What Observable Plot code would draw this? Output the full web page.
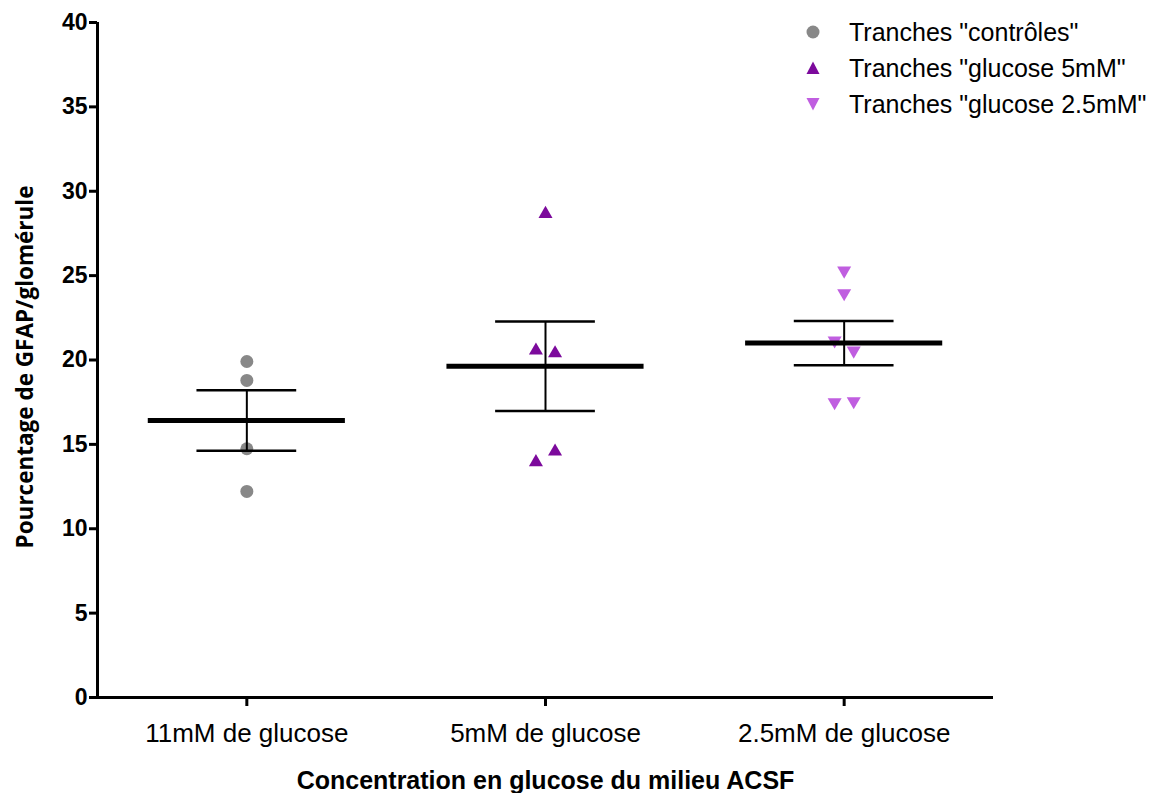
<!DOCTYPE html>
<html>
<head>
<meta charset="utf-8">
<script src="https://cdn.jsdelivr.net/npm/d3@7"></script>
<script src="https://cdn.jsdelivr.net/npm/@observablehq/plot@0.6"></script>
<style>
  body { margin: 0; background: #fff; }
  #wrap { position: relative; width: 1153px; height: 793px; font-family: "Liberation Sans", Arial, sans-serif; }
  #legend { position: absolute; left: 800px; top: 14px; font-size: 25px; color: #000; }
  #legend .row { display: flex; align-items: center; height: 36px; }
  #legend svg { width: 26px; height: 26px; margin-right: 23px; flex: none; }
</style>
</head>
<body>
<div id="wrap"><div id="legend"></div></div>
<script>
// ---- data ----
const categories = ["11mM de glucose", "5mM de glucose", "2.5mM de glucose"];
const seriesNames = ['Tranches "contrôles"', 'Tranches "glucose 5mM"', 'Tranches "glucose 2.5mM"'];
const controles = [19.91, 18.79, 14.74, 12.21];
const glucose5 = [28.66, 20.56, 20.40, 14.58, 13.95];
const glucose25 = [25.30, 23.96, 21.16, 20.56, 17.50, 17.56];
// scatter column arrangement (left / centre / right) of each point
const spread5 = [0, -1, 1, 1, -1];
const spread25 = [0, 0, -1, 1, -1, 1];
const spreadCtrl = [0, 0, 0, 0];
const yTicks = [0, 5, 10, 15, 20, 25, 30, 35, 40];
const yLabel = "Pourcentage de GFAP/glomérule";
const xLabel = "Concentration en glucose du milieu ACSF";

const colors = ["#888888", "#7c0a9c", "#c05ee0"];
const groups = [controles, glucose5, glucose25];
const spreads = [spreadCtrl, spread5, spread25];

// down-pointing triangle symbol
const triangleDown = {
  draw(context, size) {
    const y = Math.sqrt(size / (3 * Math.sqrt(3)));
    context.moveTo(0, 2 * y);
    context.lineTo(Math.sqrt(3) * y, -y);
    context.lineTo(-Math.sqrt(3) * y, -y);
    context.closePath();
  }
};
const symbols = ["circle", "triangle", triangleDown];
const radii = [6.5, 5.2, 5.2];

const JIT = 0.032;
const points = [];
groups.forEach((vals, g) => vals.forEach((v, k) => points.push({g, v, x: g + spreads[g][k] * JIT})));

const stats = groups.map((vals, g) => {
  const m = d3.mean(vals);
  const se = d3.deviation(vals) / Math.sqrt(vals.length);
  return {g, mean: m, lo: m - se, hi: m + se};
});

const marks = [];
groups.forEach((vals, g) => {
  marks.push(Plot.dot(points.filter(d => d.g === g), {
    x: "x", y: "v", symbol: symbols[g], r: radii[g], fill: colors[g], stroke: "none"
  }));
});
marks.push(
  Plot.ruleX(stats, {x: "g", y1: "lo", y2: "hi", stroke: "#000", strokeWidth: 2}),
  Plot.ruleY(stats, {y: "hi", x1: d => d.g - 0.167, x2: d => d.g + 0.167, stroke: "#000", strokeWidth: 2.5}),
  Plot.ruleY(stats, {y: "lo", x1: d => d.g - 0.167, x2: d => d.g + 0.167, stroke: "#000", strokeWidth: 2.5}),
  Plot.ruleY(stats, {y: "mean", x1: d => d.g - 0.33, x2: d => d.g + 0.33, stroke: "#000", strokeWidth: 5}),
  // axis lines
  Plot.ruleX([-0.5], {y1: 0, y2: 40, stroke: "#000", strokeWidth: 3}),
  Plot.ruleY([0], {x1: -0.5, x2: 2.5, stroke: "#000", strokeWidth: 3}),
  Plot.axisY({ticks: yTicks, tickSize: 8, tickPadding: 2, strokeWidth: 3, fontSize: 23, fontWeight: "bold", label: null}),
  Plot.axisX({ticks: [0, 1, 2], tickFormat: i => categories[i], tickSize: 9, tickPadding: 17, strokeWidth: 3, fontSize: 26, label: null}),
  Plot.text([yLabel], {text: d => d, frameAnchor: "left", rotate: -90, dx: -72, dy: 7, textAnchor: "middle", fontSize: 22.5, fontWeight: "bold", fontFamily: "'Open Sans', sans-serif"}),
  Plot.text([xLabel], {text: d => d, frameAnchor: "bottom", dy: 91, textAnchor: "middle", fontSize: 25, fontWeight: "bold"})
);

const chart = Plot.plot({
  width: 1153,
  height: 793,
  marginLeft: 97,
  marginRight: 160,
  marginTop: 22,
  marginBottom: 96,
  style: {fontFamily: "'Liberation Sans', Arial, sans-serif", color: "#000", background: "#fff", overflow: "visible"},
  x: {type: "linear", domain: [-0.5, 2.5], axis: null},
  y: {domain: [0, 40], axis: null},
  marks
});
document.getElementById("wrap").prepend(chart);

// legend
const legend = document.getElementById("legend");
const legendSyms = [
  '<circle cx="13" cy="13" r="6.5" fill="' + colors[0] + '"/>',
  '<path d="M13,6.5 L19.5,19 L6.5,19 Z" fill="' + colors[1] + '"/>',
  '<path d="M13,19.5 L19.5,7 L6.5,7 Z" fill="' + colors[2] + '"/>'
];
seriesNames.forEach((name, i) => {
  const row = document.createElement("div");
  row.className = "row";
  row.innerHTML = '<svg viewBox="0 0 26 26">' + legendSyms[i] + '</svg><span></span>';
  row.querySelector("span").textContent = name;
  legend.appendChild(row);
});
</script>
</body>
</html>
